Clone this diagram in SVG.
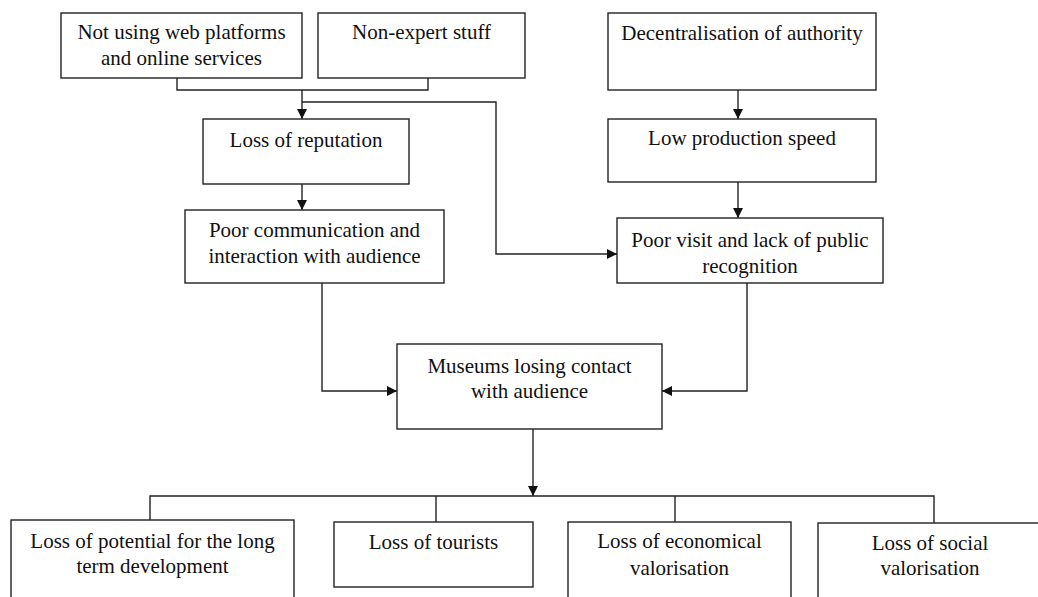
<svg xmlns="http://www.w3.org/2000/svg" width="1038" height="597" viewBox="0 0 1038 597">
<defs>
<style>
.box{fill:#fff;stroke:#222;stroke-width:1.4}
.t{font-family:"Liberation Serif","Times New Roman",serif;font-size:21px;fill:#111;text-anchor:middle}
.c{fill:none;stroke:#222;stroke-width:1.4}
</style>
<marker id="ah" viewBox="0 0 10 10" refX="10" refY="5" markerWidth="10" markerHeight="10" markerUnits="userSpaceOnUse" orient="auto">
<path d="M0,0 L10,5 L0,10 Z" fill="#111"/>
</marker>
</defs>
<rect width="1038" height="597" fill="#fff"/>
<g id="connectors">
<path class="c" d="M177,78 V90 H428 V78"/>
<path class="c" d="M302,90 V119" marker-end="url(#ah)"/>
<path class="c" d="M302,102 H496 V254 H617" marker-end="url(#ah)"/>
<path class="c" d="M302,184 V210" marker-end="url(#ah)"/>
<path class="c" d="M738,90 V119" marker-end="url(#ah)"/>
<path class="c" d="M738,182 V218" marker-end="url(#ah)"/>
<path class="c" d="M322,283 V391 H397" marker-end="url(#ah)"/>
<path class="c" d="M747,283 V391 H662" marker-end="url(#ah)"/>
<path class="c" d="M533,429 V496" marker-end="url(#ah)"/>
<path class="c" d="M150,520 V496 H934 V523"/>
<path class="c" d="M436,496 V522"/>
<path class="c" d="M675,496 V522"/>
</g>
<g id="n1"><rect class="box" x="61" y="13" width="241" height="65"/><text class="t" x="181.5" y="39">Not using web platforms</text><text class="t" x="181.5" y="65">and online services</text></g>
<g id="n2"><rect class="box" x="318" y="13" width="207" height="65"/><text class="t" x="421.5" y="39">Non-expert stuff</text></g>
<g id="n3"><rect class="box" x="608" y="13" width="268" height="77"/><text class="t" x="742" y="40">Decentralisation of authority</text></g>
<g id="n4"><rect class="box" x="203" y="119" width="206" height="65"/><text class="t" x="306" y="147">Loss of reputation</text></g>
<g id="n5"><rect class="box" x="608" y="119" width="268" height="63"/><text class="t" x="742" y="145">Low production speed</text></g>
<g id="n6"><rect class="box" x="185" y="210" width="259" height="73"/><text class="t" x="314.5" y="237">Poor communication and</text><text class="t" x="314.5" y="263">interaction with audience</text></g>
<g id="n7"><rect class="box" x="617" y="218" width="266" height="65"/><text class="t" x="750" y="247">Poor visit and lack of public</text><text class="t" x="750" y="273">recognition</text></g>
<g id="n8"><rect class="box" x="397" y="344" width="265" height="85"/><text class="t" x="529.5" y="373">Museums losing contact</text><text class="t" x="529.5" y="398">with audience</text></g>
<g id="n9"><rect class="box" x="11" y="520" width="283" height="90"/><text class="t" x="152.5" y="548">Loss of potential for the long</text><text class="t" x="152.5" y="573">term development</text></g>
<g id="n10"><rect class="box" x="334" y="522" width="199" height="65"/><text class="t" x="433.5" y="549">Loss of tourists</text></g>
<g id="n11"><rect class="box" x="568" y="522" width="223" height="90"/><text class="t" x="679.5" y="548">Loss of economical</text><text class="t" x="679.5" y="575">valorisation</text></g>
<g id="n12"><rect class="box" x="818" y="523" width="226" height="90"/><text class="t" x="930" y="550">Loss of social</text><text class="t" x="930" y="575">valorisation</text></g>
</svg>
